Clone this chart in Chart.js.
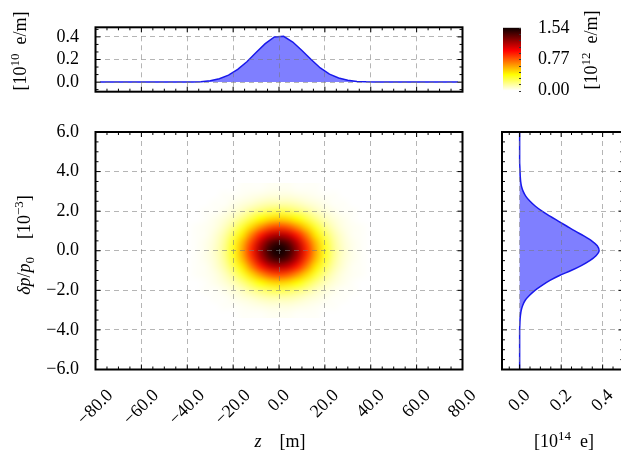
<!DOCTYPE html>
<html>
<head>
<meta charset="utf-8">
<script src="https://cdn.jsdelivr.net/npm/chart.js@4.4.1/dist/chart.umd.min.js"></script>
<style>
html, body { margin: 0; padding: 0; background: #fff; overflow: hidden; }
#wrap { position: relative; width: 621px; height: 453px; overflow: hidden; }
#wrap canvas { position: absolute; left: 0; top: 0; }
</style>
</head>
<body>
<div id="wrap">
  <canvas id="cLine" width="621" height="453"></canvas>
  <canvas id="cMap" width="621" height="453"></canvas>
  <canvas id="cSide" width="700" height="453"></canvas>
  <canvas id="cBar" width="621" height="453"></canvas>
</div>
<script>
// line density along z  [1e10 e/m]
const lineZ = [-78,-74,-70,-66,-62,-58,-54,-50,-46,-42,-38,-34,-30,-26,-22,-18,-14,-10,-6,-2,
               2,6,10,14,18,22,26,30,34,38,42,46,50,54,58,62,66,70,74,78];
const lineVal = [0,0,0,0,0,0,0,0,0,0,0.001,0.004,0.012,0.030,0.062,0.112,0.180,0.262,0.340,0.400,
                 0.405,0.355,0.280,0.200,0.125,0.070,0.036,0.016,0.006,0.002,0,0,0,0,0,0,0,0,0,0];

// projection on dp/p0  [1e14 e]
const sideDp = [-6,-5.75,-5.5,-5.25,-5,-4.75,-4.5,-4.25,-4,-3.75,-3.5,-3.25,-3,-2.75,-2.5,-2.25,-2,-1.75,-1.5,-1.25,
                -1,-0.75,-0.5,-0.25,0,0.25,0.5,0.75,1,1.25,1.5,1.75,2,2.25,2.5,2.75,3,3.25,3.5,3.75,
                4,4.25,4.5,4.75,5,5.25,5.5,5.75,6];
const sideVal = [0,0,0,0,0,0,0,0,0,0.001,0.002,0.004,0.008,0.015,0.027,0.048,0.074,0.108,0.146,0.192,
                 0.248,0.297,0.338,0.368,0.383,0.374,0.347,0.309,0.266,0.226,0.186,0.146,0.108,0.076,0.050,0.030,0.017,0.009,0.005,0.003,
                 0.002,0.001,0,0,0,0,0,0,0];

// 2D density  [1e12 e/m], rows follow mapDp, columns follow mapZ
const mapZ = [-40,-36,-32,-28,-24,-20,-16,-12,-8,-4,0,4,8,12,16,20,24,28,32,36,40];
const mapDp = [-3.2,-2.8,-2.4,-2,-1.6,-1.2,-0.8,-0.4,0,0.4,0.8,1.2,1.6,2,2.4,2.8,3.2];
const mapVal = [
  [0.00,0.00,0.00,0.00,0.00,0.00,0.01,0.01,0.01,0.02,0.02,0.02,0.01,0.01,0.01,0.00,0.00,0.00,0.00,0.00,0.00],
  [0.00,0.00,0.00,0.00,0.01,0.01,0.02,0.03,0.04,0.05,0.05,0.05,0.04,0.03,0.02,0.01,0.01,0.00,0.00,0.00,0.00],
  [0.00,0.00,0.00,0.01,0.01,0.03,0.05,0.07,0.10,0.12,0.12,0.12,0.10,0.07,0.05,0.03,0.01,0.01,0.00,0.00,0.00],
  [0.00,0.00,0.01,0.01,0.03,0.06,0.10,0.16,0.21,0.25,0.27,0.25,0.21,0.16,0.10,0.06,0.03,0.01,0.01,0.00,0.00],
  [0.00,0.00,0.01,0.03,0.06,0.11,0.19,0.29,0.40,0.47,0.50,0.47,0.40,0.29,0.19,0.11,0.06,0.03,0.01,0.00,0.00],
  [0.00,0.01,0.02,0.04,0.09,0.18,0.31,0.48,0.64,0.77,0.82,0.77,0.64,0.48,0.31,0.18,0.09,0.04,0.02,0.01,0.00],
  [0.00,0.01,0.02,0.06,0.13,0.26,0.44,0.68,0.91,1.10,1.16,1.10,0.91,0.68,0.44,0.26,0.13,0.06,0.02,0.01,0.00],
  [0.00,0.01,0.03,0.07,0.16,0.32,0.55,0.83,1.13,1.35,1.44,1.35,1.13,0.83,0.55,0.32,0.16,0.07,0.03,0.01,0.00],
  [0.00,0.01,0.03,0.08,0.17,0.34,0.59,0.89,1.21,1.45,1.54,1.45,1.21,0.89,0.59,0.34,0.17,0.08,0.03,0.01,0.00],
  [0.00,0.01,0.03,0.07,0.16,0.32,0.55,0.83,1.13,1.35,1.44,1.35,1.13,0.83,0.55,0.32,0.16,0.07,0.03,0.01,0.00],
  [0.00,0.01,0.02,0.06,0.13,0.26,0.44,0.68,0.91,1.10,1.16,1.10,0.91,0.68,0.44,0.26,0.13,0.06,0.02,0.01,0.00],
  [0.00,0.01,0.02,0.04,0.09,0.18,0.31,0.48,0.64,0.77,0.82,0.77,0.64,0.48,0.31,0.18,0.09,0.04,0.02,0.01,0.00],
  [0.00,0.00,0.01,0.03,0.06,0.11,0.19,0.29,0.40,0.47,0.50,0.47,0.40,0.29,0.19,0.11,0.06,0.03,0.01,0.00,0.00],
  [0.00,0.00,0.01,0.01,0.03,0.06,0.10,0.16,0.21,0.25,0.27,0.25,0.21,0.16,0.10,0.06,0.03,0.01,0.01,0.00,0.00],
  [0.00,0.00,0.00,0.01,0.01,0.03,0.05,0.07,0.10,0.12,0.12,0.12,0.10,0.07,0.05,0.03,0.01,0.01,0.00,0.00,0.00],
  [0.00,0.00,0.00,0.00,0.01,0.01,0.02,0.03,0.04,0.05,0.05,0.05,0.04,0.03,0.02,0.01,0.01,0.00,0.00,0.00,0.00],
  [0.00,0.00,0.00,0.00,0.00,0.00,0.01,0.01,0.01,0.02,0.02,0.02,0.01,0.01,0.01,0.00,0.00,0.00,0.00,0.00,0.00]
];

// ticks
const zTicks = [-80,-60,-40,-20,0,20,40,60,80];
const dpTicks = [-6,-4,-2,0,2,4,6];
const lineTicks = [0, 0.2, 0.4];
const sideTicks = [0, 0.2, 0.4];
const barTicks = [0, 0.77, 1.54];
const barMax = 1.54;

const FONT = "'Liberation Serif', 'DejaVu Serif', serif";
Chart.defaults.font.family = FONT;
Chart.defaults.font.size = 18;
Chart.defaults.color = '#000';
Chart.defaults.animation = false;

const GRID = 'rgba(120,120,120,0.55)';
const W = 621, H = 453;

function fmt(v, d) {
  return v.toFixed(d).replace('-', '\u2212');
}
function setTicks(list) {
  return s => { s.ticks = list.map(v => ({ value: v })); };
}

// matplotlib "hot_r"
function hotR(f) {
  const t = 1 - Math.max(0, Math.min(1, f));
  const c = v => Math.max(0, Math.min(1, v));
  const r = c(0.0416 + 0.9584 * t / 0.365079);
  const g = c((t - 0.365079) / (0.746032 - 0.365079));
  const b = c((t - 0.746032) / (1 - 0.746032));
  return [Math.round(r * 255), Math.round(g * 255), Math.round(b * 255)];
}

// text with italic / super / subscript pieces
function rich(ctx, parts, x, y, rot) {
  ctx.save();
  ctx.translate(x, y);
  ctx.rotate(rot || 0);
  let w = 0;
  const spans = parts.map(p => {
    const size = p.s ? 13 : 18;
    const f = (p.i ? 'italic ' : '') + size + 'px ' + FONT;
    ctx.font = f;
    const o = { t: p.t, f: f, x: w, dy: p.s === 'up' ? -7 : (p.s === 'dn' ? 4 : 0) };
    w += ctx.measureText(p.t).width;
    return o;
  });
  ctx.textAlign = 'left';
  ctx.textBaseline = 'alphabetic';
  ctx.fillStyle = '#000';
  spans.forEach(o => {
    ctx.font = o.f;
    ctx.fillText(o.t, o.x - w / 2, o.dy + 6);
  });
  ctx.restore();
}

// inward ticks on all four sides + thick frame
function framePlugin(xMinor, yMinor, extra) {
  return {
    id: 'frame',
    afterDraw(chart) {
      const { ctx, chartArea: a, scales } = chart;
      const x = scales.x, y = scales.y;
      ctx.save();
      ctx.strokeStyle = '#000';
      ctx.lineWidth = 1;
      const marks = (sc, step) => {
        const out = [];
        const majors = sc.ticks.map(t => t.value);
        majors.forEach(v => out.push([v, 5]));
        for (let k = Math.ceil(sc.min / step - 1e-9); k <= Math.floor(sc.max / step + 1e-9); k++) {
          const v = k * step;
          if (!majors.some(m => Math.abs(m - v) < 1e-6)) out.push([v, 3]);
        }
        return out;
      };
      ctx.beginPath();
      marks(x, xMinor).forEach(([v, len]) => {
        const p = x.getPixelForValue(v);
        ctx.moveTo(p, a.top); ctx.lineTo(p, a.top + len);
        ctx.moveTo(p, a.bottom); ctx.lineTo(p, a.bottom - len);
      });
      marks(y, yMinor).forEach(([v, len]) => {
        const p = y.getPixelForValue(v);
        ctx.moveTo(a.left, p); ctx.lineTo(a.left + len, p);
        ctx.moveTo(a.right, p); ctx.lineTo(a.right - len, p);
      });
      ctx.stroke();
      ctx.lineWidth = 2;
      ctx.strokeRect(a.left, a.top, a.right - a.left, a.bottom - a.top);
      ctx.restore();
      if (extra) extra(chart);
    }
  };
}

// rotated x tick labels, box centred under the tick
function rotLabels(chart, vals, dec) {
  const { ctx, chartArea: a, scales: { x } } = chart;
  ctx.save();
  ctx.font = '18px ' + FONT;
  ctx.textAlign = 'center';
  ctx.textBaseline = 'middle';
  ctx.fillStyle = '#000';
  vals.forEach(v => {
    const t = fmt(v, dec);
    const w = ctx.measureText(t).width;
    const cx = x.getPixelForValue(v);
    const cy = a.bottom + 17.5 + 0.354 * (w + 16);
    ctx.save();
    ctx.translate(cx, cy);
    ctx.rotate(-Math.PI / 4);
    ctx.fillText(t, 0, 0);
    ctx.restore();
  });
  ctx.restore();
}

function gridOpts() {
  return { color: GRID, lineWidth: 1, drawTicks: false, z: 1 };
}
function borderOpts() {
  return { display: false, dash: [5, 4] };
}

// ---------- top: line density ----------
new Chart(document.getElementById('cLine'), {
  type: 'line',
  data: {
    datasets: [{
      data: lineZ.map((z, i) => ({ x: z, y: lineVal[i] })),
      borderColor: 'rgb(25,25,235)',
      borderWidth: 1.5,
      backgroundColor: 'rgba(0,0,255,0.5)',
      fill: 'origin',
      pointRadius: 0,
      tension: 0
    }]
  },
  options: {
    responsive: false,
    devicePixelRatio: 1,
    layout: { padding: { left: 0, top: 12.3, right: W - 462.5, bottom: 0 } },
    plugins: { legend: { display: false }, tooltip: { enabled: false } },
    scales: {
      x: {
        type: 'linear', min: -80, max: 80,
        afterBuildTicks: setTicks(zTicks),
        afterFit: s => { s.height = H - 91.7; },
        ticks: { display: false },
        grid: gridOpts(), border: borderOpts()
      },
      y: {
        type: 'linear', min: -0.085, max: 0.485,
        afterBuildTicks: setTicks(lineTicks),
        afterFit: s => { s.width = 95.5; },
        ticks: { padding: 16.5, autoSkip: false, callback: v => fmt(v, 1) },
        grid: gridOpts(), border: borderOpts()
      }
    }
  },
  plugins: [framePlugin(5, 0.2 / 3, chart => {
    rich(chart.ctx, [{ t: '[10' }, { t: '10', s: 'up' }, { t: '\u2002e/m]' }], 20, 51, -Math.PI / 2);
  })]
});

// ---------- main: 2D density map ----------
const heatmap = {
  id: 'heatmap',
  beforeDatasetsDraw(chart) {
    const { ctx, chartArea: a, scales: { x, y } } = chart;
    const nz = mapZ.length, nd = mapDp.length;
    const off = document.createElement('canvas');
    off.width = nz; off.height = nd;
    const octx = off.getContext('2d');
    const img = octx.createImageData(nz, nd);
    for (let j = 0; j < nd; j++) {
      const row = mapVal[nd - 1 - j];
      for (let i = 0; i < nz; i++) {
        const [r, g, b] = hotR(row[i] / barMax);
        const k = (j * nz + i) * 4;
        img.data[k] = r; img.data[k + 1] = g; img.data[k + 2] = b; img.data[k + 3] = 255;
      }
    }
    octx.putImageData(img, 0, 0);
    const dz = mapZ[1] - mapZ[0], dd = mapDp[1] - mapDp[0];
    const x0 = x.getPixelForValue(mapZ[0] - dz / 2), x1 = x.getPixelForValue(mapZ[nz - 1] + dz / 2);
    const y0 = y.getPixelForValue(mapDp[nd - 1] + dd / 2), y1 = y.getPixelForValue(mapDp[0] - dd / 2);
    ctx.save();
    ctx.beginPath();
    ctx.rect(a.left, a.top, a.right - a.left, a.bottom - a.top);
    ctx.clip();
    ctx.imageSmoothingEnabled = true;
    ctx.imageSmoothingQuality = 'high';
    ctx.drawImage(off, x0, y0, x1 - x0, y1 - y0);
    ctx.restore();
  }
};

new Chart(document.getElementById('cMap'), {
  type: 'scatter',
  data: { datasets: [] },
  options: {
    responsive: false,
    devicePixelRatio: 1,
    layout: { padding: { left: 0, top: 132, right: W - 462.5, bottom: 0 } },
    plugins: { legend: { display: false }, tooltip: { enabled: false } },
    scales: {
      x: {
        type: 'linear', min: -80, max: 80,
        afterBuildTicks: setTicks(zTicks),
        afterFit: s => { s.height = H - 369.5; },
        ticks: { display: false },
        grid: gridOpts(), border: borderOpts()
      },
      y: {
        type: 'linear', min: -6, max: 6,
        afterBuildTicks: setTicks(dpTicks),
        afterFit: s => { s.width = 95.5; },
        ticks: { padding: 16.5, autoSkip: false, callback: v => fmt(v, 1) },
        grid: gridOpts(), border: borderOpts()
      }
    }
  },
  plugins: [heatmap, framePlugin(5, 0.5, chart => {
    rotLabels(chart, zTicks, 1);
    rich(chart.ctx, [{ t: '\u03b4p', i: 1 }, { t: '/' }, { t: 'p', i: 1 }, { t: '0', s: 'dn' },
                     { t: '\u2003[10' }, { t: '\u22123', s: 'up' }, { t: ']' }], 24, 245, -Math.PI / 2);
    rich(chart.ctx, [{ t: 'z', i: 1 }, { t: '\u2003[m]' }], 280, 441, 0);
  })]
});

// ---------- right: projection on dp/p0 ----------
new Chart(document.getElementById('cSide'), {
  type: 'line',
  data: {
    datasets: [{
      data: sideDp.map((d, i) => ({ x: sideVal[i], y: d })),
      borderColor: 'rgb(25,25,235)',
      borderWidth: 1.5,
      backgroundColor: 'rgba(0,0,255,0.5)',
      fill: 'origin',
      pointRadius: 0,
      cubicInterpolationMode: 'monotone'
    }]
  },
  options: {
    responsive: false,
    devicePixelRatio: 1,
    indexAxis: 'y',
    layout: { padding: { left: 0, top: 132, right: 700 - 623.4, bottom: 0 } },
    plugins: { legend: { display: false }, tooltip: { enabled: false } },
    scales: {
      x: {
        type: 'linear', min: -0.085, max: 0.5,
        afterBuildTicks: setTicks(sideTicks),
        afterFit: s => { s.height = H - 369.5; },
        ticks: { display: false },
        grid: gridOpts(), border: borderOpts()
      },
      y: {
        type: 'linear', min: -6, max: 6,
        afterBuildTicks: setTicks(dpTicks),
        afterFit: s => { s.width = 502; },
        ticks: { display: false },
        grid: gridOpts(), border: borderOpts()
      }
    }
  },
  plugins: [framePlugin(0.05, 0.5, chart => {
    rotLabels(chart, sideTicks, 1);
    rich(chart.ctx, [{ t: '[10' }, { t: '14', s: 'up' }, { t: '\u2002e]' }], 564, 441, 0);
  })]
});

// ---------- colour bar ----------
const colorbar = {
  id: 'colorbar',
  beforeDatasetsDraw(chart) {
    const { ctx, chartArea: a, scales: { y } } = chart;
    const g = ctx.createLinearGradient(0, y.getPixelForValue(0), 0, y.getPixelForValue(barMax));
    [0, 0.253968, 0.634921, 1].forEach(f => {
      const [r, gg, b] = hotR(f);
      g.addColorStop(f, 'rgb(' + r + ',' + gg + ',' + b + ')');
    });
    ctx.save();
    ctx.fillStyle = g;
    ctx.fillRect(a.left, a.top, a.right - a.left, a.bottom - a.top);
    ctx.strokeStyle = '#333';
    ctx.lineWidth = 1;
    ctx.beginPath();
    for (let k = 0; k <= 10; k++) {
      const p = Math.round(y.getPixelForValue(k * 0.154)) + 0.5;
      ctx.moveTo(a.right, p); ctx.lineTo(a.right - 2, p);
    }
    ctx.stroke();
    ctx.restore();
  },
  afterDraw(chart) {
    rich(chart.ctx, [{ t: '[10' }, { t: '12', s: 'up' }, { t: '\u2002e/m]' }], 591, 50, -Math.PI / 2);
  }
};

new Chart(document.getElementById('cBar'), {
  type: 'scatter',
  data: { datasets: [] },
  options: {
    responsive: false,
    devicePixelRatio: 1,
    layout: { padding: { left: 503, top: 12.3, right: 0, bottom: H - 90.7 } },
    plugins: { legend: { display: false }, tooltip: { enabled: false } },
    scales: {
      x: { type: 'linear', min: 0, max: 1, display: false },
      y: {
        type: 'linear', position: 'right', min: 0, max: barMax,
        afterBuildTicks: setTicks(barTicks),
        afterFit: s => { s.width = W - 521; },
        ticks: { padding: 17, autoSkip: false, callback: v => v.toFixed(2) },
        grid: { display: false, drawTicks: false },
        border: { display: false }
      }
    }
  },
  plugins: [colorbar]
});
</script>
</body>
</html>
